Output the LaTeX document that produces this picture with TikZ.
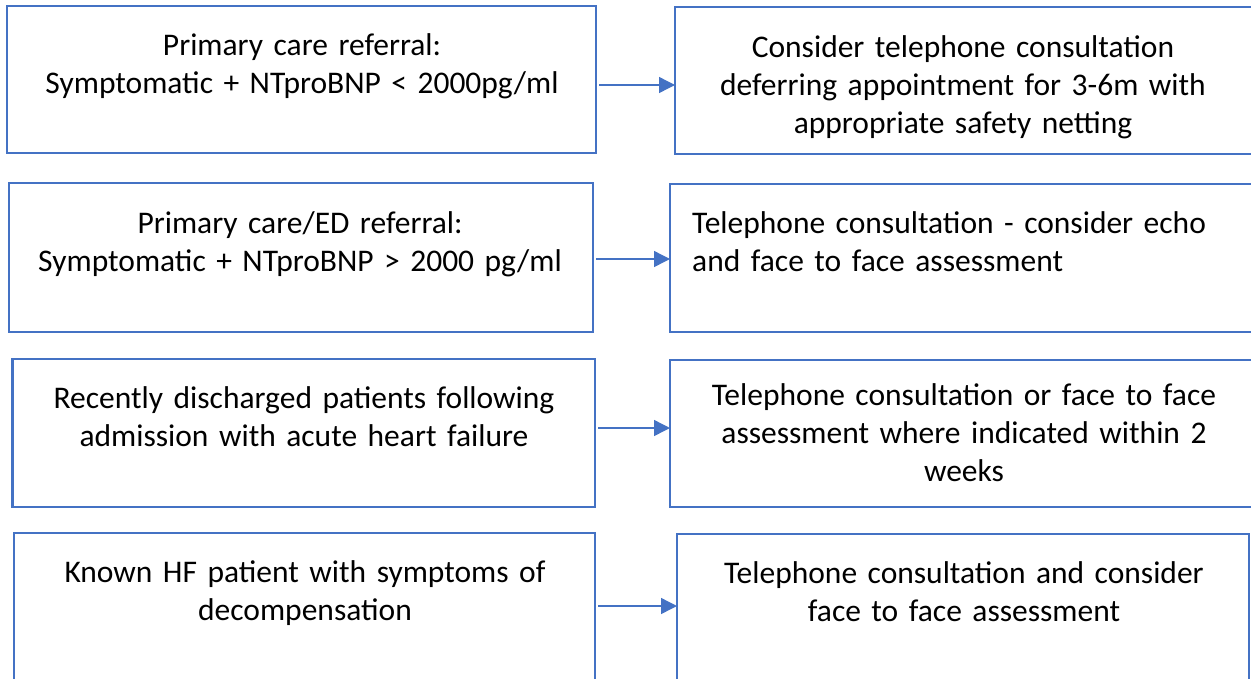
\documentclass[tikz,border=0pt]{standalone}
\usepackage{fontspec}
\setmainfont{Carlito}
\usetikzlibrary{arrows.meta}
\definecolor{bblue}{HTML}{4472C4}
\begin{document}
\begin{tikzpicture}[x=1pt,y=-1pt,
  box/.style={draw=bblue,line width=2.6pt,rectangle,inner sep=0pt,outer sep=0pt},
  txt/.style={anchor=base,inner sep=0pt,text width=570pt,align=center,
    font=\fontsize{31.5pt}{38pt}\selectfont},
  txtl/.style={anchor=base west,inner sep=0pt,text width=555pt,align=left,
    font=\fontsize{31.5pt}{38pt}\selectfont},
  arr/.style={draw=bblue,line width=1.4pt,-{Triangle[length=16pt,width=16pt]},shorten <=3pt}]
\clip (0,0) rectangle (1251,678);
% boxes
\node[box,minimum width=589pt,minimum height=147pt] (l1) at (301.5,79.5) {};
\node[box,minimum width=577pt,minimum height=147pt] (r1) at (963.5,80.5) {};
\node[box,minimum width=584pt,minimum height=149pt] (l2) at (301,257.5) {};
\node[box,minimum width=582pt,minimum height=148pt] (r2) at (961,258) {};
\node[box,minimum width=582.5pt,minimum height=148pt] (l3) at (303.75,433) {};
\node[box,minimum width=588pt,minimum height=147pt] (r3) at (964,433.5) {};
\node[box,minimum width=581pt,minimum height=157pt] (l4) at (304.5,611.5) {};
\node[box,minimum width=572pt,minimum height=156pt] (r4) at (963,612) {};
% texts
\node[txt] (t1l) at (302,55) {Primary care referral:\\Symptomatic + NTproBNP < 2000pg/ml};
\node[txt] (t1r) at (963,57) {Consider telephone consultation\\deferring appointment for 3-6m with\\appropriate safety netting};
\node[txt] (t2l) at (300,233) {Primary care/ED referral:\\Symptomatic + NTproBNP > 2000 pg/ml};
\node[txtl] (t2r) at (692,233) {Telephone consultation - consider echo\\and face to face assessment};
\node[txt] (t3l) at (304,408) {Recently discharged patients following\\admission with acute heart failure};
\node[txt] (t3r) at (964,405) {Telephone consultation or face to face\\assessment where indicated within 2\\weeks};
\node[txt] (t4l) at (305,582) {Known HF patient with symptoms of\\decompensation};
\node[txt] (t4r) at (964,583) {Telephone consultation and consider\\face to face assessment};
% arrows
\coordinate (a1) at (0,85);
\coordinate (a2) at (0,259);
\coordinate (a3) at (0,428);
\coordinate (a4) at (0,606);
\draw[arr] (l1.east |- a1) -- (r1.west |- a1);
\draw[arr] (l2.east |- a2) -- (r2.west |- a2);
\draw[arr] (l3.east |- a3) -- (r3.west |- a3);
\draw[arr] (l4.east |- a4) -- (r4.west |- a4);
\end{tikzpicture}
\end{document}
